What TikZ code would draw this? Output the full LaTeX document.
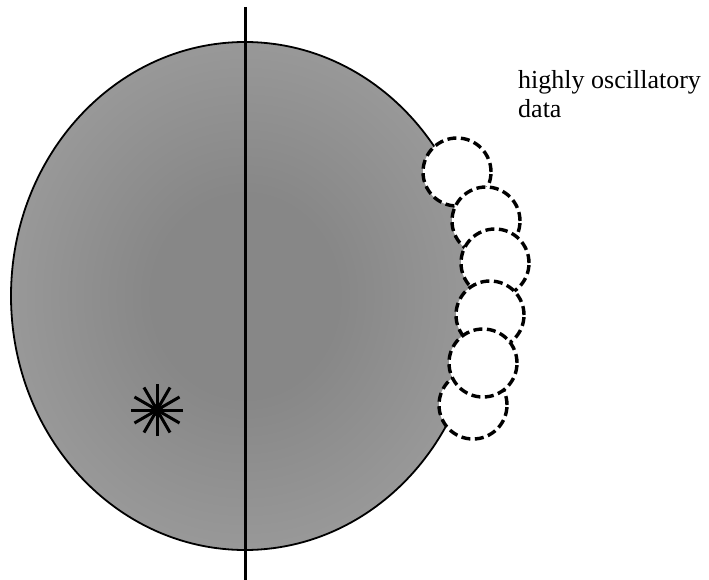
\documentclass[tikz,border=0pt]{standalone}
\usepackage{fontspec}
\setmainfont{Liberation Serif}
\usepackage{tikz}
\usetikzlibrary{positioning,calc}
\definecolor{discLight}{gray}{0.71}
\definecolor{discDark}{gray}{0.53}
\pgfdeclareradialshading{discshade}{\pgfpoint{0bp}{0bp}}{color(0bp)=(discDark); color(10bp)=(discDark); color(50bp)=(discLight)}

\begin{document}
\begin{tikzpicture}[x=1pt,y=-1pt,
    disc/.style={shading=discshade,draw=black,line width=1.8pt},
    axis/.style={draw=black,line width=3pt},
    bubble/.style={circle,draw=black,fill=white,line width=3.4pt,dash pattern=on 9pt off 4.5pt,
                   minimum size=68pt,inner sep=0pt},
    ray/.style={draw=black,line width=3pt},
    lbl/.style={font=\fontsize{26}{29}\selectfont,align=left,inner sep=0pt}]
  \useasboundingbox (0,0) rectangle (709,580);
  % the shaded disc and the line through it
  \path[disc] (245,296) ellipse [x radius=234,y radius=254];
  \coordinate (axtop) at (245,7);
  \coordinate (axbot) at (245,580);
  \draw[axis] (axtop) -- (axbot);
  % dashed bubbles on the right rim
  \node[bubble] (b1) at (457,172) {};
  \node[bubble] (b2) at (486,221) {};
  \node[bubble] (b3) at (495,263) {};
  \node[bubble] (b4) at (490,315) {};
  \node[bubble] (b6) at (473,405) {};
  \node[bubble] (b5) at (483,363) {};
  \node[lbl,anchor=base west] (osc) at (518,118) {highly oscillatory\\data};
  % the source point
  \coordinate (src) at (157,410);
  \foreach \a in {0,30,...,150}
    \draw[ray] ($(src)+(\a:26)$) -- ($(src)+(\a+180:26)$);
  \fill (src) circle (6);
\end{tikzpicture}
\end{document}
